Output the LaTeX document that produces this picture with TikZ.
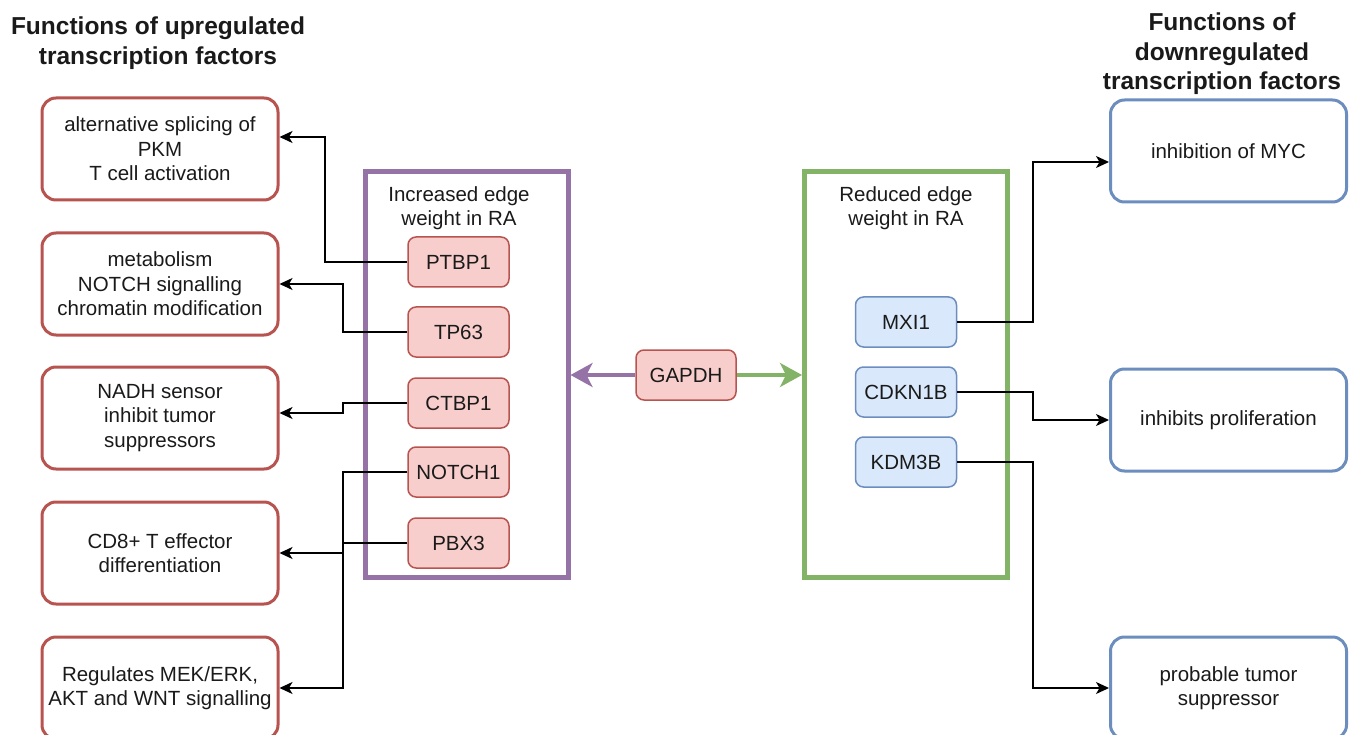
\documentclass[tikz,border=0pt]{standalone}
\usepackage{fontspec}
\setmainfont{Liberation Sans}
\usetikzlibrary{arrows.meta}

\definecolor{redline}{HTML}{B85450}
\definecolor{redfill}{HTML}{F8CECC}
\definecolor{blueline}{HTML}{6C8EBF}
\definecolor{bluefill}{HTML}{DAE8FC}
\definecolor{purpleline}{HTML}{9673A6}
\definecolor{greenline}{HTML}{82B366}
\definecolor{ink}{HTML}{1A1A1A}

\newcommand{\boxfont}{\fontsize{20.5}{24.5}\selectfont}
\newcommand{\titlefont}{\fontsize{24.5}{29.5}\selectfont\bfseries}

\begin{document}
\begin{tikzpicture}[x=1pt,y=-1pt,
  every node/.style={text=ink, inner sep=0pt},
  funcbox/.style={draw, line width=3pt, rounded corners=14pt, fill=white,
    minimum width=236pt, minimum height=102pt, align=center, font=\boxfont},
  upfunc/.style={funcbox, draw=redline},
  dnfunc/.style={funcbox, draw=blueline},
  tfnode/.style={draw, line width=1.5pt, rounded corners=8pt,
    minimum width=101pt, minimum height=50pt, align=center, font=\boxfont},
  uptf/.style={tfnode, draw=redline, fill=redfill},
  dntf/.style={tfnode, draw=blueline, fill=bluefill},
  container/.style={draw, line width=5pt, minimum width=203pt, minimum height=405pt},
  caption/.style={align=center, font=\boxfont},
  heading/.style={align=center, font=\titlefont},
  conn/.style={draw=black, line width=1.4pt, -{Stealth[length=13pt,width=12pt,inset=3.5pt]}},
  bigarrow/.style={line width=3.5pt, -{Stealth[length=22pt,width=24pt,inset=6pt]}}
]
\useasboundingbox (0,0) rectangle (1352,735);
\clip (0,0) rectangle (1352,735);

% headings
\node[heading] (hup) at (158,43) {Functions of upregulated\\transcription factors};
\node[heading] (hdn) at (1222,54) {Functions of\\downregulated\\transcription factors};

% functions of upregulated factors
\node[upfunc] (up1) at (160,149) {alternative splicing of\\PKM\\T cell activation};
\node[upfunc] (up2) at (160,284) {metabolism\\NOTCH signalling\\chromatin modification};
\node[upfunc] (up3) at (160,418) {NADH sensor\\inhibit tumor\\suppressors};
\node[upfunc] (up4) at (160,553) {CD8+ T effector\\differentiation};
\node[upfunc] (up5) at (160,688) {Regulates MEK/ERK,\\AKT and WNT signalling};

% functions of downregulated factors
\node[dnfunc] (dn1) at (1228.5,151) {inhibition of MYC};
\node[dnfunc] (dn2) at (1228.5,420) {inhibits proliferation};
\node[dnfunc] (dn3) at (1228.5,688) {probable tumor\\suppressor};

% edge-weight groups
\node[container, draw=purpleline] (inc) at (466.5,374.5) {};
\node[caption] (inclab) at (459,208) {Increased edge\\weight in RA};
\node[container, draw=greenline] (red) at (906,374.5) {};
\node[caption] (redlab) at (906,208) {Reduced edge\\weight in RA};

% transcription factors
\node[uptf] (ptbp1) at (458.5,262) {PTBP1};
\node[uptf] (tp63) at (458.5,332) {TP63};
\node[uptf] (ctbp1) at (458.5,403) {CTBP1};
\node[uptf] (notch1) at (458.5,472) {NOTCH1};
\node[uptf] (pbx3) at (458.5,543) {PBX3};

\node[dntf] (mxi1) at (906,322) {MXI1};
\node[dntf] (cdkn1b) at (906,392) {CDKN1B};
\node[dntf] (kdm3b) at (906,462) {KDM3B};

% hub gene
\node[uptf, minimum width=100pt] (gapdh) at (686,375) {GAPDH};
\draw[bigarrow, purpleline] (gapdh.west) -- (inc.east |- gapdh.west);
\draw[bigarrow, greenline] (gapdh.east) -- (red.west |- gapdh.east);

% factor-to-function links
\draw[conn] (ptbp1.west) -- (325,262) |- ([yshift=12pt]up1.east);
\draw[conn] (tp63.west) -- (343,332) |- (up2.east);
\draw[conn] (ctbp1.west) -- (343,403) |- ([yshift=5pt]up3.east);
\draw[conn] (notch1.west) -- (343,472) |- (up5.east);
\draw[conn] (pbx3.west) -- (343,543) |- (up4.east);

\draw[conn] (mxi1.east) -- (1033,322) |- ([yshift=-11pt]dn1.west);
\draw[conn] (cdkn1b.east) -- (1033,392) |- (dn2.west);
\draw[conn] (kdm3b.east) -- (1033,462) |- (dn3.west);
\end{tikzpicture}
\end{document}
